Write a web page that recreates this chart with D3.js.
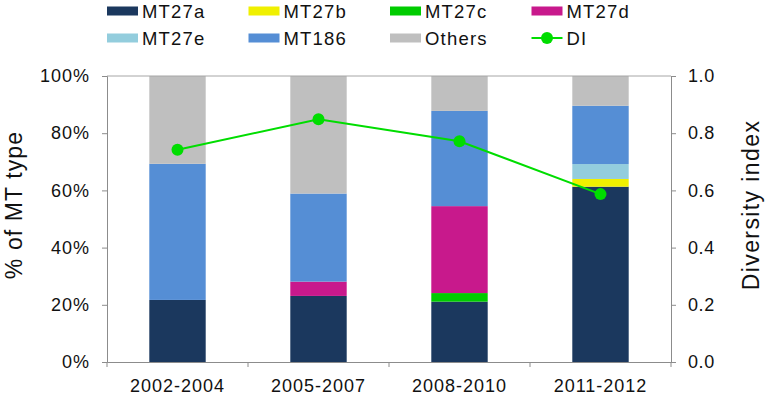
<!DOCTYPE html>
<html><head><meta charset="utf-8">
<script src="https://cdn.jsdelivr.net/npm/d3@7"></script>
<style>body{margin:0;background:#fff}svg{display:block;font-family:"Liberation Sans",Arial,sans-serif}</style>
</head><body><svg id="c" width="765" height="405"></svg>
<script>
const categories = ["2002-2004","2005-2007","2008-2010","2011-2012"];
const seriesNames = ["MT27a","MT27b","MT27c","MT27d","MT27e","MT186","Others"];
const MT27a = [21.7, 23.1, 21.1, 61.3];
const MT27b = [0, 0, 0, 2.7];
const MT27c = [0, 0, 3.0, 0];
const MT27d = [0, 5.0, 30.4, 0];
const MT27e = [0, 0, 0, 5.2];
const MT186 = [47.6, 30.8, 33.3, 20.4];
const Others = [30.7, 41.1, 12.2, 10.4];
const DI = [0.742, 0.849, 0.772, 0.587];
const leftTicks = [0,20,40,60,80,100];
const rightTicks = [0,0.2,0.4,0.6,0.8,1.0];
const colors = ["#1b385e","#f0f000","#00cc00","#c8198c","#93cddd","#558ed5","#bfbfbf"];
const diColor = "#00dd00";

const values = [MT27a,MT27b,MT27c,MT27d,MT27e,MT186,Others];
const table = categories.map((c,i)=>{const o={cat:c};seriesNames.forEach((s,j)=>o[s]=values[j][i]);return o;});

const svg = d3.select("#c");
const L=107, R=671, T=76, B=362;
const x = d3.scaleBand().domain(categories).range([L,R]).paddingInner(0.6).paddingOuter(0.3);
const xb = d3.scaleBand().domain(categories).range([L,R]);
const y = d3.scaleLinear().domain([0,100]).range([B,T]);
const y2 = d3.scaleLinear().domain([0,1]).range([B,T]);

const stack = d3.stack().keys(seriesNames)(table);
svg.append("g").selectAll("g").data(stack).join("g").attr("fill",(d,i)=>colors[i])
  .selectAll("rect").data(d=>d).join("rect")
  .attr("x",d=>x(d.data.cat)).attr("width",x.bandwidth())
  .attr("y",d=>y(d[1])).attr("height",d=>y(d[0])-y(d[1]));

const axisColor="#8c8c8c";
svg.append("line").attr("x1",L).attr("x2",R).attr("y1",T).attr("y2",T).attr("stroke","#a6a6a6");

const gl = svg.append("g").attr("transform",`translate(${L},0)`)
  .call(d3.axisLeft(y).tickValues(leftTicks).tickFormat(d=>d+"%").tickSize(5).tickPadding(12));
const gr = svg.append("g").attr("transform",`translate(${R},0)`)
  .call(d3.axisRight(y2).tickValues(rightTicks).tickFormat(d3.format(".1f")).tickSize(5).tickPadding(12));
const gb = svg.append("g").attr("transform",`translate(0,${B})`)
  .call(d3.axisBottom(xb).tickSize(0).tickPadding(17));
gb.selectAll(".bt").data(d3.range(categories.length+1)).join("line")
  .attr("x1",i=>L+i*xb.step()).attr("x2",i=>L+i*xb.step()).attr("y1",0).attr("y2",5).attr("stroke",axisColor);
[gl,gr,gb].forEach(g=>{
  g.selectAll(".domain").attr("stroke",axisColor);
  g.selectAll(".tick line").attr("stroke",axisColor);
  g.selectAll("text").attr("font-size",18).attr("letter-spacing","1px").attr("fill","#111").attr("font-family","Liberation Sans, Arial, sans-serif");
});
gr.selectAll("text").attr("letter-spacing","0.6px");

const line = d3.line().x(d=>x(d.cat)+x.bandwidth()/2).y(d=>y2(d.v));
const diData = categories.map((c,i)=>({cat:c,v:DI[i]}));
svg.append("path").datum(diData).attr("d",line).attr("fill","none").attr("stroke",diColor).attr("stroke-width",2);
svg.append("g").selectAll("circle").data(diData).join("circle")
  .attr("cx",d=>x(d.cat)+x.bandwidth()/2).attr("cy",d=>y2(d.v)).attr("r",6).attr("fill",diColor);

svg.append("text").attr("transform",`translate(22,205) rotate(-90)`).attr("text-anchor","middle")
  .attr("font-size",23).attr("letter-spacing","1.1px").attr("fill","#111").text("% of MT type");
svg.append("text").attr("transform",`translate(759,205) rotate(-90)`).attr("text-anchor","middle")
  .attr("font-size",23).attr("letter-spacing","1.4px").attr("fill","#111").text("Diversity index");

const legItems = seriesNames.map((s,i)=>({name:s,color:colors[i],type:"rect"})).concat([{name:"DI",color:diColor,type:"line"}]);
const lg = svg.append("g").selectAll("g").data(legItems).join("g")
  .attr("transform",(d,i)=>`translate(${107+(i%4)*141.5},${i<4?11:38})`);
lg.filter(d=>d.type==="rect").append("rect").attr("x",0).attr("y",-4.5).attr("width",31).attr("height",9).attr("fill",d=>d.color);
lg.filter(d=>d.type==="line").append("line").attr("x1",0).attr("x2",31).attr("y1",0).attr("y2",0).attr("stroke",d=>d.color).attr("stroke-width",2);
lg.filter(d=>d.type==="line").append("circle").attr("cx",15.5).attr("cy",0).attr("r",6).attr("fill",d=>d.color);
lg.append("text").attr("x",35).attr("y",0).attr("dy","0.36em").attr("font-size",18.5).attr("letter-spacing","1.2px").attr("fill","#111").text(d=>d.name);
</script></body></html>
